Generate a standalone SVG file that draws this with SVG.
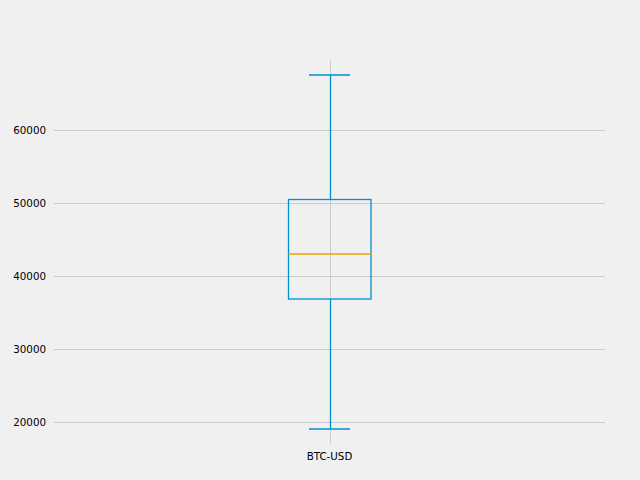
<svg xmlns="http://www.w3.org/2000/svg" width="640" height="480" viewBox="0 0 640 480">
<style>
.grid{stroke:#cbcbcb;stroke-width:1;fill:none}
.box{stroke:#008fd5;stroke-width:1.3;fill:none}
.med{stroke:#f5a000;stroke-width:1.3}
.lbl{font-family:"DejaVu Sans",sans-serif;font-size:10.3px;fill:#000}
</style>
<rect width="640" height="480" fill="#f0f0f0"/>
<g id="grid">
<line class="grid" x1="54" y1="130.5" x2="605" y2="130.5"/>
<line class="grid" x1="54" y1="203.5" x2="605" y2="203.5"/>
<line class="grid" x1="54" y1="276.5" x2="605" y2="276.5"/>
<line class="grid" x1="54" y1="349.5" x2="605" y2="349.5"/>
<line class="grid" x1="54" y1="422.5" x2="605" y2="422.5"/>
<line class="grid" x1="330.5" y1="60" x2="330.5" y2="444"/>
</g>
<g id="yticks" class="lbl" text-anchor="end">
<text x="46" y="134">60000</text>
<text x="46" y="207">50000</text>
<text x="46" y="280">40000</text>
<text x="46" y="353">30000</text>
<text x="46" y="426">20000</text>
</g>
<g id="xticks" class="lbl" text-anchor="middle">
<text x="329.5" y="460">BTC-USD</text>
</g>
<g id="boxplot">
<rect class="box" x="288.5" y="199.5" width="82.5" height="99.5"/>
<line class="box" x1="330.5" y1="199.5" x2="330.5" y2="75"/>
<line class="box" x1="330.5" y1="299" x2="330.5" y2="429"/>
<line class="box" x1="309" y1="75" x2="350" y2="75"/>
<line class="box" x1="309" y1="429" x2="350" y2="429"/>
<line class="med" x1="288.5" y1="254" x2="371" y2="254"/>
</g>
</svg>
